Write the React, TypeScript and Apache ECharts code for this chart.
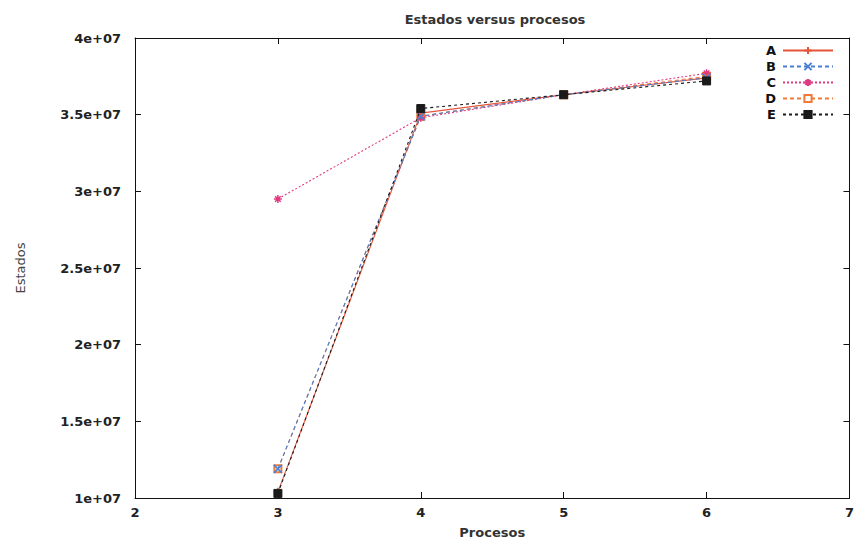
import React, { useEffect, useRef } from "react";
import * as echarts from "echarts";

const procesos = [3, 4, 5, 6];
const serieA = [10.4e6, 35.1e6, 36.3e6, 37.4e6];
const serieB = [11.9e6, 34.9e6, 36.3e6, 37.4e6];
const serieC = [29.5e6, 34.8e6, 36.3e6, 37.7e6];
const serieD = [11.9e6, 34.9e6, 36.3e6, 37.5e6];
const serieE = [10.3e6, 35.4e6, 36.3e6, 37.2e6];
const seriesNames = ["A", "B", "C", "D", "E"];
const seriesValues = [serieA, serieB, serieC, serieD, serieE];
const colors = ["#e5553a", "#4a7fd4", "#df3a80", "#f07a35", "#1a1a1a"];
const lineTypes: any[] = ["solid", [4, 3], [2, 2], [4, 3], [3, 3]];
const symbols = [
  "path://M0,5L10,5M5,0L5,10",
  "path://M0,0L10,10M10,0L0,10",
  "path://M0,5L10,5M5,0L5,10M1.5,1.5L8.5,8.5M8.5,1.5L1.5,8.5",
  "emptyRect",
  "rect",
];
const zOrder = [9, 10, 8, 6, 11];

const fmtY = (v: number) => {
  const m = Math.round((v / 1e7) * 100) / 100;
  return `${m}e+07`;
};

export default function App() {
  const ref = useRef<HTMLDivElement>(null);
  useEffect(() => {
    const chart = echarts.init(ref.current!, null, { renderer: "svg" });
    const font = "DejaVu Sans, sans-serif";
    const axisCommon = {
      axisLine: { show: true, lineStyle: { color: "#111", width: 1 } },
      axisTick: { show: true, inside: true, length: 6, lineStyle: { color: "#111" } },
      splitLine: { show: false },
    };
    chart.setOption({
      animation: false,
      backgroundColor: "#ffffff",
      title: {
        text: "Estados versus procesos",
        left: 490,
        textAlign: "center",
        top: 8,
        textStyle: { fontFamily: font, fontSize: 13, fontWeight: "bold", color: "#333" },
      },
      grid: { left: 135, right: 5, top: 38, bottom: 49 },
      legend: {
        orient: "vertical",
        align: "right",
        right: 18,
        top: 39,
        itemWidth: 50,
        itemHeight: 9,
        itemGap: 3,
        data: seriesNames,
        textStyle: { fontFamily: font, fontSize: 13, fontWeight: "bold", color: "#111", padding: [0, 2, 0, 0] },
      },
      xAxis: [
        {
          type: "value",
          min: 2,
          max: 7,
          interval: 1,
          name: "Procesos",
          nameLocation: "middle",
          nameGap: 28,
          nameTextStyle: { fontFamily: font, fontSize: 13, fontWeight: "bold", color: "#333" },
          axisLabel: { fontFamily: font, fontSize: 13, fontWeight: "bold", color: "#222", margin: 8 },
          ...axisCommon,
        },
        {
          type: "value",
          position: "top",
          min: 2,
          max: 7,
          interval: 1,
          axisLabel: { show: false },
          ...axisCommon,
        },
      ],
      yAxis: [
        {
          type: "value",
          min: 1e7,
          max: 4e7,
          interval: 5e6,
          name: "Estados",
          nameLocation: "middle",
          nameGap: 108,
          nameRotate: 90,
          nameTextStyle: { fontFamily: font, fontSize: 13, fontWeight: "normal", color: "#444" },
          axisLabel: { fontFamily: font, fontSize: 13, fontWeight: "bold", color: "#222", margin: 14, formatter: fmtY },
          ...axisCommon,
        },
        {
          type: "value",
          position: "right",
          min: 1e7,
          max: 4e7,
          interval: 5e6,
          axisLabel: { show: false },
          ...axisCommon,
        },
      ],
      series: seriesNames.map((name, i) => ({
        name,
        type: "line",
        data: procesos.map((x, j) => [x, seriesValues[i][j]]),
        symbol: symbols[i],
        symbolSize: i === 3 ? 7 : i === 4 ? 8 : 8,
        showAllSymbol: true,
        color: colors[i],
        lineStyle: { color: colors[i], width: 1.1, type: lineTypes[i] },
        itemStyle:
          i === 4
            ? { color: colors[i], borderColor: colors[i], borderWidth: 1 }
            : { color: colors[i], borderColor: colors[i], borderWidth: 1.5 },
        z: zOrder[i],
      })),
    });
    return () => chart.dispose();
  }, []);
  return (
    <div
      ref={ref}
      style={{ position: "fixed", left: 0, top: 0, width: 857, height: 547 }}
    />
  );
}
